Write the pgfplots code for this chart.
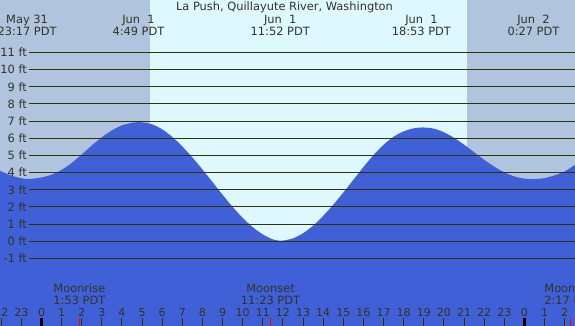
\documentclass[border=0pt]{standalone}
\usepackage{pgfplots}
\pgfplotsset{compat=1.18}
\usepackage{fontspec}
\setmainfont{DejaVu Sans}
\definecolor{night}{HTML}{B0C4DE}
\definecolor{day}{HTML}{DEF8FF}
\definecolor{tide}{HTML}{4060D8}
\definecolor{ink}{HTML}{333300}
\definecolor{txt}{HTML}{333322}
\newcommand{\fs}{\fontsize{11.4bp}{13bp}\selectfont}
\newcommand{\fst}{\fontsize{11bp}{13bp}\selectfont}
\begin{document}
\begin{tikzpicture}
\begin{axis}[width=575bp,height=326bp,scale only axis,hide axis,
  xmin=-2.0626,xmax=26.516,ymin=-4.933,ymax=14.053,clip=true]
\addplot[fill=night,draw=none] coordinates {(-2.2,-5.2)(26.7,-5.2)(26.7,14.3)(-2.2,14.3)};
\addplot[fill=day,draw=none] coordinates {(5.393,-5.2)(21.149,-5.2)(21.149,14.3)(5.393,14.3)};
\addplot[fill=tide,draw=none,smooth] coordinates {
(-2.10,4.12) (-2.0,4.07) (-1.5,3.83) (-1.0,3.67) (-0.72,3.63) (-0.5,3.64) (0,3.72) (0.5,3.88) (1,4.16) (1.5,4.56) (2,5.06) (2.5,5.58) (3,6.06) (3.5,6.46) (4,6.75) (4.5,6.90) (4.82,6.94) (5,6.93) (5.5,6.81) (6,6.52) (6.5,6.08) (7,5.52) (7.5,4.88) (8,4.18) (8.5,3.45) (9,2.71) (9.5,2.00) (10,1.36) (10.5,0.82) (11,0.40) (11.5,0.11) (11.87,0.03) (12,0.04) (12.5,0.17) (13,0.47) (13.5,0.91) (14,1.48) (14.5,2.13) (15,2.84) (15.5,3.58) (16,4.32) (16.5,5.02) (17,5.62) (17.5,6.09) (18,6.40) (18.5,6.58) (18.96,6.63) (19.5,6.56) (20,6.35) (20.5,6.03) (21,5.63) (21.5,5.19) (22,4.75) (22.5,4.35) (23,4.02) (23.5,3.78) (24,3.65) (24.43,3.62) (25,3.68) (25.5,3.84) (26,4.07) (26.55,4.48)}
  -- (axis cs:26.55,-5.2) -- (axis cs:-2.10,-5.2) -- cycle;
\pgfplotsinvokeforeach{-1,...,11}{
  \addplot[ink,line width=1bp] coordinates {(-0.621,#1)(26.7,#1)};
  \node[anchor=east,inner sep=0pt,text=txt,font=\fs] at (axis cs:-0.72,#1) {#1 ft};
}
\pgfplotsinvokeforeach{-2,...,26}{
  \draw[ink,line width=1bp] (axis cs:#1,-4.467) -- (axis cs:#1,-5.0);
  \node[anchor=base,inner sep=0pt,text=txt,font=\fst] at (axis cs:#1,-4.351) {\pgfmathparse{int(mod(#1+24,24))}\pgfmathresult};
}
\draw[black,line width=3bp] (axis cs:0,-4.467) -- (axis cs:0,-5.0);
\draw[black,line width=3bp] (axis cs:24,-4.467) -- (axis cs:24,-5.0);
\draw[red,line width=1bp] (axis cs:1.883,-4.467) -- (axis cs:1.883,-5.0);
\draw[red,line width=1bp] (axis cs:11.383,-4.467) -- (axis cs:11.383,-5.0);
\draw[red,line width=1bp] (axis cs:26.283,-4.467) -- (axis cs:26.283,-5.0);
% title and event labels
\node[anchor=base,inner sep=0pt,text=txt,font=\fs] at (axis cs:12.077,13.413) {La Push, Quillayute River, Washington};
\node[anchor=base,inner sep=0pt,text=txt,font=\fs] at (axis cs:-0.717,12.656) {May 31};
\node[anchor=base,inner sep=0pt,text=txt,font=\fs] at (axis cs:-0.717,11.957) {23:17 PDT};
\node[anchor=base,inner sep=0pt,text=txt,font=\fs] at (axis cs:4.817,12.656) {Jun~~1};
\node[anchor=base,inner sep=0pt,text=txt,font=\fs] at (axis cs:4.817,11.957) {4:49 PDT};
\node[anchor=base,inner sep=0pt,text=txt,font=\fs] at (axis cs:11.867,12.656) {Jun~~1};
\node[anchor=base,inner sep=0pt,text=txt,font=\fs] at (axis cs:11.867,11.957) {11:52 PDT};
\node[anchor=base,inner sep=0pt,text=txt,font=\fs] at (axis cs:18.883,12.656) {Jun~~1};
\node[anchor=base,inner sep=0pt,text=txt,font=\fs] at (axis cs:18.883,11.957) {18:53 PDT};
\node[anchor=base,inner sep=0pt,text=txt,font=\fs] at (axis cs:24.45,12.656) {Jun~~2};
\node[anchor=base,inner sep=0pt,text=txt,font=\fs] at (axis cs:24.45,11.957) {0:27 PDT};
% moon labels
\node[anchor=base,inner sep=0pt,text=txt,font=\fs] at (axis cs:1.883,-2.953) {Moonrise};
\node[anchor=base,inner sep=0pt,text=txt,font=\fs] at (axis cs:1.883,-3.652) {1:53 PDT};
\node[anchor=base,inner sep=0pt,text=txt,font=\fs] at (axis cs:11.383,-2.953) {Moonset};
\node[anchor=base,inner sep=0pt,text=txt,font=\fs] at (axis cs:11.383,-3.652) {11:23 PDT};
\node[anchor=base,inner sep=0pt,text=txt,font=\fs] at (axis cs:26.283,-2.953) {Moonrise};
\node[anchor=base,inner sep=0pt,text=txt,font=\fs] at (axis cs:26.283,-3.652) {2:17 PDT};
\end{axis}
\pgfresetboundingbox
\useasboundingbox (current axis.south west) rectangle (current axis.north east);
\end{tikzpicture}
\end{document}
